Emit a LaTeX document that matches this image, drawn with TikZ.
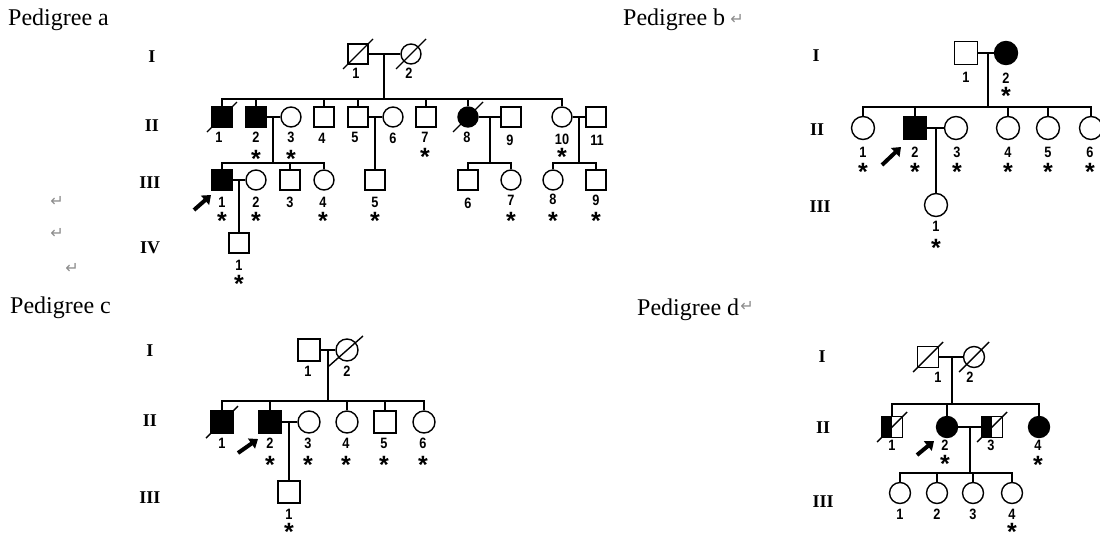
\documentclass[tikz,border=0pt]{standalone}
\usepackage{fontspec}
\usepackage{graphicx}
\setmainfont{Liberation Serif}
\setsansfont{Liberation Sans}
\newfontfamily\symf{DejaVu Sans}
\newfontfamily\astf{Liberation Sans}
\usetikzlibrary{arrows.meta,calc}
\newcommand\nm[1]{\scalebox{0.85}[1]{#1}}
\newcommand\asx{\raisebox{-0.42em}[0.34em][0pt]{*}}
\newcommand\dsl[2][15]{\draw[ln] ($(#2.center)+(-#1,#1)$) -- ($(#2.center)+(#1,-#1)$);}
\newcommand\halfm[1]{\fill (#1.south west) rectangle (#1.north);}
\begin{document}
\begin{tikzpicture}[x=1pt,y=-1pt,
 ln/.style={line width=1.4pt},
 sz/.style={minimum size=20pt},
 male/.style={draw,rectangle,sz,inner sep=0pt,line width=1.4pt},
 female/.style={draw,circle,sz,inner sep=0pt,line width=1.4pt},
 aff/.style={fill=black},
 num/.style={font=\sffamily\bfseries\fontsize{15}{15}\selectfont,inner sep=0pt},
 ast/.style={font=\astf\bfseries\fontsize{25}{25}\selectfont,inner sep=0pt},
 gen/.style={font=\bfseries\fontsize{18}{18}\selectfont,inner sep=0pt},
 ttl/.style={font=\fontsize{24}{24}\selectfont,anchor=base west,inner sep=0pt},
 ret/.style={font=\symf\fontsize{16}{16}\selectfont,text=black!45,inner sep=0pt},
 prob/.style={line width=4pt,-{Triangle[length=8pt,width=12pt]}}]
\useasboundingbox (0,0) rectangle (1100,536);

% ---------- titles ----------
\node[ttl] (ta) at (8,25) {Pedigree a};
\node[ttl] (tb) at (623,25) {Pedigree b};
\node[ret] (rb) at (737,19) {↵};
\node[ttl] (tc) at (10,313) {Pedigree c};
\node[ttl] (td) at (637,315) {Pedigree d};
\node[ret] (rd) at (747,306) {↵};
\node[ret] (r1) at (57,201) {↵};
\node[ret] (r2) at (57,233) {↵};
\node[ret] (r3) at (72,268) {↵};

% ================= Pedigree a =================
\node[gen] (gaI) at (152,57) {I};
\node[gen] (gaII) at (152,126) {II};
\node[gen] (gaIII) at (150,183) {III};
\node[gen] (gaIV) at (150,248) {IV};

\node[male] (aI1) at (358,54) {};
\node[female] (aI2) at (411,54) {};
\dsl{aI1} \dsl{aI2}
\draw[ln] (aI1) -- (aI2);
\coordinate (aIm) at (384,54);
\coordinate (aIs) at (384,99);
\draw[ln] (aIm) -- (aIs);
\node[num] (aL11) at (356,73) {\nm{1}};
\node[num] (aL12) at (409,73) {\nm{2}};

\node[male,aff] (aII1) at (222,117) {};
\node[male,aff] (aII2) at (256,117) {};
\node[female] (aII3) at (291,117) {};
\node[male] (aII4) at (324,117) {};
\node[male] (aII5) at (358,117) {};
\node[female] (aII6) at (393,117) {};
\node[male] (aII7) at (426,117) {};
\node[female,aff] (aII8) at (468,117) {};
\node[male] (aII9) at (511,117) {};
\node[female] (aII10) at (562,117) {};
\node[male] (aII11) at (596,117) {};
\dsl{aII1} \dsl{aII8}
\foreach \c in {aII1,aII2,aII4,aII5,aII7,aII8,aII10} \draw[ln] (aIs) -| (\c.north);
\draw[ln] (aII2) -- (aII3);
\draw[ln] (aII5) -- (aII6);
\draw[ln] (aII8) -- (aII9);
\draw[ln] (aII10) -- (aII11);
\node[num] (aL21) at (219,137) {\nm{1}};
\node[num] (aL22) at (256,137) {\nm{2}};
\node[num] (aL23) at (291,137) {\nm{3}};
\node[num] (aL24) at (322,138) {\nm{4}};
\node[num] (aL25) at (355,137) {\nm{5}};
\node[num] (aL26) at (393,138) {\nm{6}};
\node[num] (aL27) at (425,137) {\nm{7}};
\node[num] (aL28) at (467,137) {\nm{8}};
\node[num] (aL29) at (510,140) {\nm{9}};
\node[num] (aL210) at (562,139) {\nm{10}};
\node[num] (aL211) at (597,140) {\nm{11}};
\node[ast] (aS22) at (256,153) {\asx};
\node[ast] (aS23) at (291,153) {\asx};
\node[ast] (aS27) at (425,151) {\asx};
\node[ast] (aS210) at (562,151) {\asx};

\coordinate (aIIm1) at (273,117);
\coordinate (aIIs1) at (273,163);
\coordinate (aIIm2) at (375,117);
\coordinate (aIIm3) at (490,117);
\coordinate (aIIs3) at (490,163);
\coordinate (aIIm4) at (579,117);
\coordinate (aIIs4) at (579,163);
\draw[ln] (aIIm1) -- (aIIs1);
\draw[ln] (aIIm3) -- (aIIs3);
\draw[ln] (aIIm4) -- (aIIs4);

\node[male,aff] (aIII1) at (222,180) {};
\node[female] (aIII2) at (256,180) {};
\node[male] (aIII3) at (290,180) {};
\node[female] (aIII4) at (324,180) {};
\node[male] (aIII5) at (375,180) {};
\node[male] (aIII6) at (468,180) {};
\node[female] (aIII7) at (511,180) {};
\node[female] (aIII8) at (553,180) {};
\node[male] (aIII9) at (596,180) {};
\foreach \c in {aIII1,aIII3,aIII4} \draw[ln] (aIIs1) -| (\c.north);
\draw[ln] (aIIm2) -- (aIII5.north);
\foreach \c in {aIII6,aIII7} \draw[ln] (aIIs3) -| (\c.north);
\foreach \c in {aIII8,aIII9} \draw[ln] (aIIs4) -| (\c.north);
\draw[ln] (aIII1) -- (aIII2);
\node[num] (aL31) at (222,202) {\nm{1}};
\node[num] (aL32) at (256,202) {\nm{2}};
\node[num] (aL33) at (290,202) {\nm{3}};
\node[num] (aL34) at (323,202) {\nm{4}};
\node[num] (aL35) at (375,202) {\nm{5}};
\node[num] (aL36) at (468,203) {\nm{6}};
\node[num] (aL37) at (511,200) {\nm{7}};
\node[num] (aL38) at (553,199) {\nm{8}};
\node[num] (aL39) at (596,200) {\nm{9}};
\foreach \n/\x in {1/222,2/256,4/323,5/375,7/511,8/553,9/596} \node[ast] (aS3\n) at (\x,215) {\asx};
\coordinate (aIIIm) at (239,180);
\node[male] (aIV1) at (239,243) {};
\draw[ln] (aIIIm) -- (aIV1.north);
\node[num] (aL41) at (239,265) {\nm{1}};
\node[ast] (aS41) at (239,278) {\asx};
\coordinate (aPt) at (194,210);
\coordinate (aPh) at (211,195);
\draw[prob] (aPt) -- (aPh);

% ================= Pedigree b =================
\begin{scope}[sz/.style={minimum size=23pt}]
\node[gen] (gbI) at (816,56) {I};
\node[gen] (gbII) at (817,130) {II};
\node[gen] (gbIII) at (820,207) {III};
\node[male] (bI1) at (966,53) {};
\node[female,aff] (bI2) at (1006,53) {};
\draw[ln] (bI1) -- (bI2);
\coordinate (bIm) at (988,53);
\coordinate (bIs) at (988,107);
\draw[ln] (bIm) -- (bIs);
\node[num] (bL11) at (966,77) {\nm{1}};
\node[num] (bL12) at (1006,78) {\nm{2}};
\node[ast] (bS12) at (1006,90) {\asx};
\node[female] (bII1) at (863,128) {};
\node[male,aff] (bII2) at (915,128) {};
\node[female] (bII3) at (956,128) {};
\node[female] (bII4) at (1008,128) {};
\node[female] (bII5) at (1048,128) {};
\node[female] (bII6) at (1091,128) {};
\foreach \c in {bII1,bII2,bII4,bII5,bII6} \draw[ln] (bIs) -| (\c.north);
\draw[ln] (bII2) -- (bII3);
\foreach \n/\x in {1/863,2/915,3/957,4/1008,5/1048,6/1090} {
  \node[num] (bL2\n) at (\x,152) {\nm{\n}};
  \node[ast] (bS2\n) at (\x,166) {\asx};
}
\coordinate (bIIm) at (936,128);
\node[female] (bIII1) at (936,205) {};
\draw[ln] (bIIm) -- (bIII1.north);
\node[num] (bL31) at (936,226) {\nm{1}};
\node[ast] (bS31) at (936,242) {\asx};
\coordinate (bPt) at (882,165);
\coordinate (bPh) at (901,147);
\draw[prob] (bPt) -- (bPh);
\end{scope}

% ================= Pedigree c =================
\begin{scope}[sz/.style={minimum size=22pt}]
\node[gen] (gcI) at (150,351) {I};
\node[gen] (gcII) at (150,421) {II};
\node[gen] (gcIII) at (150,498) {III};
\node[male] (cI1) at (309,350) {};
\node[female] (cI2) at (347,350) {};
\draw[ln] ($(cI2.center)+(-18,16)$) -- ($(cI2.center)+(16,-14)$);
\draw[ln] (cI1) -- (cI2);
\coordinate (cIm) at (328,350);
\coordinate (cIs) at (328,401);
\draw[ln] (cIm) -- (cIs);
\node[num] (cL11) at (308,371) {\nm{1}};
\node[num] (cL12) at (347,371) {\nm{2}};
\node[male,aff] (cII1) at (222,422) {};
\node[male,aff] (cII2) at (270,422) {};
\node[female] (cII3) at (309,422) {};
\node[female] (cII4) at (347,422) {};
\node[male] (cII5) at (385,422) {};
\node[female] (cII6) at (424,422) {};
\dsl[16]{cII1}
\foreach \c in {cII1,cII2,cII4,cII5,cII6} \draw[ln] (cIs) -| (\c.north);
\draw[ln] (cII2) -- (cII3);
\node[num] (cL21) at (222,443) {\nm{1}};
\foreach \n/\x in {2/270,3/308,4/346,5/384,6/423} {
  \node[num] (cL2\n) at (\x,443) {\nm{\n}};
  \node[ast] (cS2\n) at (\x,459) {\asx};
}
\coordinate (cIIm) at (289,422);
\node[male] (cIII1) at (289,492) {};
\draw[ln] (cIIm) -- (cIII1.north);
\node[num] (cL31) at (289,514) {\nm{1}};
\node[ast] (cS31) at (289,526) {\asx};
\coordinate (cPt) at (238,453);
\coordinate (cPh) at (258,439);
\draw[prob] (cPt) -- (cPh);
\end{scope}

% ================= Pedigree d =================
\begin{scope}[sz/.style={minimum size=21pt}]
\node[gen] (gdI) at (822,357) {I};
\node[gen] (gdII) at (823,428) {II};
\node[gen] (gdIII) at (823,502) {III};
\node[male] (dI1) at (928,357) {};
\node[female] (dI2) at (974,357) {};
\dsl{dI1} \dsl{dI2}
\draw[ln] (dI1) -- (dI2);
\coordinate (dIm) at (952,357);
\coordinate (dIs) at (952,404);
\draw[ln] (dIm) -- (dIs);
\node[num] (dL11) at (938,377) {\nm{1}};
\node[num] (dL12) at (970,377) {\nm{2}};
\node[male] (dII1) at (892,427) {};
\node[female,aff] (dII2) at (947,427) {};
\node[male] (dII3) at (992,427) {};
\node[female,aff] (dII4) at (1039,427) {};
\halfm{dII1} \halfm{dII3}
\dsl{dII1} \dsl{dII3}
\foreach \c in {dII1,dII2,dII4} \draw[ln] (dIs) -| (\c.north);
\draw[ln] (dII2) -- (dII3);
\node[num] (dL21) at (892,445) {\nm{1}};
\node[num] (dL22) at (945,445) {\nm{2}};
\node[num] (dL23) at (991,445) {\nm{3}};
\node[num] (dL24) at (1038,445) {\nm{4}};
\node[ast] (dS22) at (945,458) {\asx};
\node[ast] (dS24) at (1038,459) {\asx};
\coordinate (dIIm) at (970,427);
\coordinate (dIIs) at (970,473);
\draw[ln] (dIIm) -- (dIIs);
\foreach \n/\x in {1/900,2/937,3/973,4/1012} {
  \node[female] (dIII\n) at (\x,493) {};
  \draw[ln] (dIIs) -| (dIII\n.north);
  \node[num] (dL3\n) at (\x,514) {\nm{\n}};
}
\node[ast] (dS34) at (1012,526) {\asx};
\coordinate (dPt) at (917,455);
\coordinate (dPh) at (934,441);
\draw[prob] (dPt) -- (dPh);
\end{scope}
\end{tikzpicture}
\end{document}
